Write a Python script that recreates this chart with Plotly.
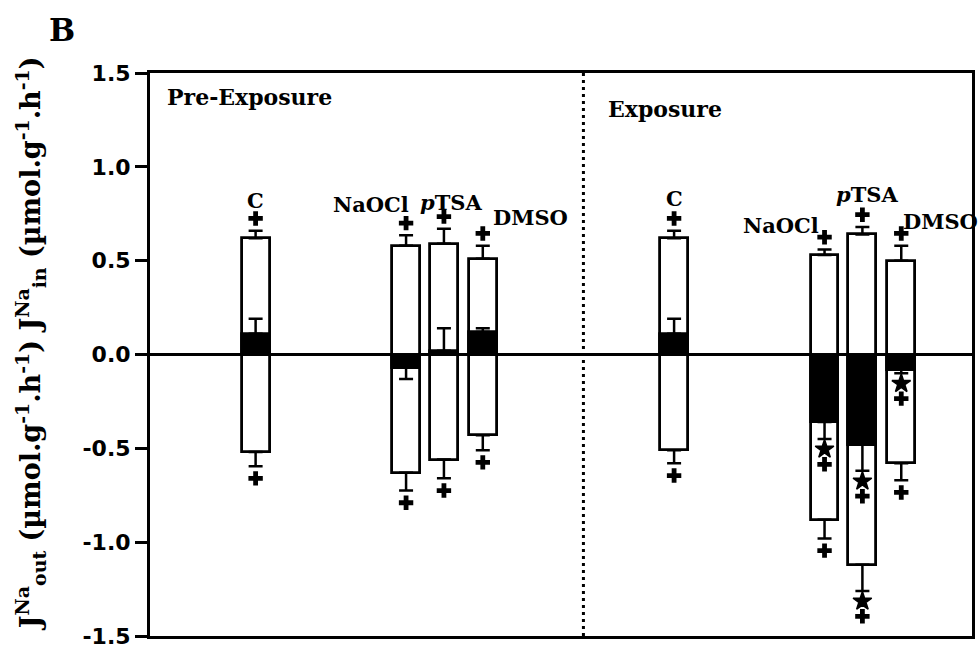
import plotly.graph_objects as go

# ---- data -------------------------------------------------------------
periods = ["Pre-Exposure", "Exposure"]
treatments = ["C", "NaOCl", "pTSA", "DMSO"]
treatment_labels = ["C", "NaOCl", "<i>p</i>TSA", "DMSO"]

# unidirectional Na+ influx (J_in), efflux (J_out, negative) and net flux, with SEM
influx_pre = [0.62, 0.58, 0.59, 0.51]
influx_pre_err = [0.04, 0.055, 0.08, 0.07]
efflux_pre = [-0.52, -0.63, -0.56, -0.43]
efflux_pre_err = [0.075, 0.095, 0.10, 0.08]
net_pre = [0.11, -0.07, 0.02, 0.12]
net_pre_err = [0.08, 0.06, 0.12, 0.02]

influx_exp = [0.62, 0.53, 0.64, 0.50]
influx_exp_err = [0.04, 0.03, 0.04, 0.08]
efflux_exp = [-0.51, -0.88, -1.12, -0.58]
efflux_exp_err = [0.07, 0.10, 0.14, 0.09]
net_exp = [0.11, -0.36, -0.48, -0.08]
net_exp_err = [0.08, 0.09, 0.14, 0.02]

# significance marks: "+" and "*" ("*+" = both)
influx_sig_pre = ["+", "+", "+", "+"]
efflux_sig_pre = ["+", "+", "+", "+"]
net_sig_pre = ["", "", "", ""]
influx_sig_exp = ["+", "+", "+", "+"]
efflux_sig_exp = ["+", "+", "*+", "+"]
net_sig_exp = ["", "*+", "*+", "*+"]

y_tick_values = [-1.5, -1.0, -0.5, 0.0, 0.5, 1.0, 1.5]
y_tick_labels = ["-1.5", "-1.0", "-0.5", "0.0", "0.5", "1.0", "1.5"]

# ---- layout helpers ---------------------------------------------------
SLOT = {"C": 10.6, "NaOCl": 25.7, "pTSA": 29.5, "DMSO": 33.4}
PERIOD_SHIFT = {"Pre-Exposure": 0.0, "Exposure": 42.0}
BAR_W = 2.8
DIVIDER_X = 43.5
X_RANGE = [0, 82.5]

# label anchor (dx from bar centre, y in data units)
LABEL_POS = {
    ("Pre-Exposure", "C"): (0.0, 0.82),
    ("Pre-Exposure", "NaOCl"): (-3.5, 0.80),
    ("Pre-Exposure", "pTSA"): (0.7, 0.81),
    ("Pre-Exposure", "DMSO"): (4.8, 0.73),
    ("Exposure", "C"): (0.0, 0.83),
    ("Exposure", "NaOCl"): (-4.4, 0.69),
    ("Exposure", "pTSA"): (0.5, 0.85),
    ("Exposure", "DMSO"): (3.9, 0.71),
}

SERIF = "DejaVu Serif, Liberation Serif, serif"
SANS = "DejaVu Sans, Liberation Sans, Arial, sans-serif"

data = {
    "Pre-Exposure": dict(inf=influx_pre, inf_e=influx_pre_err, eff=efflux_pre, eff_e=efflux_pre_err,
                         net=net_pre, net_e=net_pre_err, s_in=influx_sig_pre, s_out=efflux_sig_pre,
                         s_net=net_sig_pre),
    "Exposure": dict(inf=influx_exp, inf_e=influx_exp_err, eff=efflux_exp, eff_e=efflux_exp_err,
                     net=net_exp, net_e=net_exp_err, s_in=influx_sig_exp, s_out=efflux_sig_exp,
                     s_net=net_sig_exp),
}

xs, inf, inf_e, eff, eff_e, net, net_e = [], [], [], [], [], [], []
for p in periods:
    d = data[p]
    for i, t in enumerate(treatments):
        xs.append(PERIOD_SHIFT[p] + SLOT[t])
        inf.append(d["inf"][i]); inf_e.append(d["inf_e"][i])
        eff.append(d["eff"][i]); eff_e.append(d["eff_e"][i])
        net.append(d["net"][i]); net_e.append(d["net_e"][i])

err_style = dict(type="data", symmetric=False, color="black", thickness=2.5, width=7)

fig = go.Figure()

# influx (white, upward)
fig.add_trace(go.Bar(
    x=xs, y=inf, base=0, width=BAR_W,
    marker=dict(color="white", line=dict(color="black", width=2.8)),
    error_y=dict(array=inf_e, arrayminus=[0] * len(inf_e), **err_style),
    showlegend=False, hoverinfo="skip",
))
# efflux (white, downward)
fig.add_trace(go.Bar(
    x=xs, y=eff, base=0, width=BAR_W,
    marker=dict(color="white", line=dict(color="black", width=2.8)),
    error_y=dict(array=[0] * len(eff_e), arrayminus=eff_e, **err_style),
    showlegend=False, hoverinfo="skip",
))
# net flux (black)
fig.add_trace(go.Bar(
    x=xs, y=net, base=0, width=BAR_W,
    marker=dict(color="black", line=dict(color="black", width=2.8)),
    error_y=dict(array=[e if v >= 0 else 0 for v, e in zip(net, net_e)],
                 arrayminus=[e if v < 0 else 0 for v, e in zip(net, net_e)], **err_style),
    showlegend=False, hoverinfo="skip",
))

# significance symbols beyond the error-bar caps
plus_x, plus_y, star_x, star_y = [], [], [], []
for p in periods:
    d = data[p]
    for i, t in enumerate(treatments):
        x = PERIOD_SHIFT[p] + SLOT[t]
        for val, err, sig in ((d["inf"][i], d["inf_e"][i], d["s_in"][i]),
                              (d["eff"][i], d["eff_e"][i], d["s_out"][i]),
                              (d["net"][i], d["net_e"][i], d["s_net"][i])):
            if not sig:
                continue
            sgn = 1 if val >= 0 else -1
            end = val + sgn * err
            if "*" in sig:
                star_x.append(x); star_y.append(end + sgn * 0.055)
                plus_x.append(x); plus_y.append(end + sgn * 0.135)
            else:
                plus_x.append(x); plus_y.append(end + sgn * 0.065)

fig.add_trace(go.Scatter(x=plus_x, y=plus_y, mode="markers",
                         marker=dict(symbol="cross", size=12, color="black"),
                         showlegend=False, hoverinfo="skip"))
fig.add_trace(go.Scatter(x=star_x, y=star_y, mode="markers",
                         marker=dict(symbol="star", size=14, color="black",
                                     line=dict(color="black", width=1.5)),
                         showlegend=False, hoverinfo="skip"))

# treatment labels
for p in periods:
    for t, lab in zip(treatments, treatment_labels):
        dx, y = LABEL_POS[(p, t)]
        fig.add_annotation(x=PERIOD_SHIFT[p] + SLOT[t] + dx, y=y, text=f"<b>{lab}</b>",
                           showarrow=False, font=dict(family=SERIF, size=21, color="black"),
                           xanchor="center", yanchor="middle")

# period headings
fig.add_annotation(x=1.5, y=1.37, text="<b>Pre-Exposure</b>", showarrow=False, xanchor="left",
                   yanchor="middle", font=dict(family=SERIF, size=22, color="black"))
fig.add_annotation(x=DIVIDER_X + 2.3, y=1.31, text="<b>Exposure</b>", showarrow=False, xanchor="left",
                   yanchor="middle", font=dict(family=SERIF, size=22, color="black"))

# panel letter
fig.add_annotation(xref="paper", yref="paper", x=-0.107, y=1.076, text="<b>B</b>", showarrow=False,
                   xanchor="center", yanchor="middle",
                   font=dict(family=SERIF, size=31, color="black"))

# y-axis title
fig.add_annotation(
    xref="paper", yref="paper", x=-0.146, y=0.52, textangle=-90, showarrow=False,
    xanchor="center", yanchor="middle",
    text=("<b>J<sup>Na</sup><sub>out</sub> (µmol.g<sup>-1</sup>.h<sup>-1</sup>) "
          "J<sup>Na</sup><sub>in</sub> (µmol.g<sup>-1</sup>.h<sup>-1</sup>)</b>"),
    font=dict(family=SERIF, size=27, color="black"),
)

# dotted divider between periods
fig.add_shape(type="line", x0=DIVIDER_X, x1=DIVIDER_X, y0=-1.5, y1=1.5,
              line=dict(color="black", width=3, dash="3px,4px"))

fig.update_layout(
    width=980, height=654,
    margin=dict(l=150, r=5, t=73, b=13),
    paper_bgcolor="white", plot_bgcolor="white",
    barmode="overlay", bargap=0,
    xaxis=dict(range=X_RANGE, showticklabels=False, ticks="", showgrid=False, zeroline=False,
               showline=True, linewidth=3, linecolor="black", mirror=True, fixedrange=True),
    yaxis=dict(range=[-1.5, 1.5], tickvals=y_tick_values, ticktext=y_tick_labels,
               ticks="outside", ticklen=12, tickwidth=2.5, tickcolor="black",
               tickfont=dict(family=SANS, size=22, color="black", weight="bold"),
               showgrid=False, zeroline=True, zerolinewidth=2.5, zerolinecolor="black",
               showline=True, linewidth=3, linecolor="black", mirror=True, fixedrange=True),
)

fig.write_html("out.html")
